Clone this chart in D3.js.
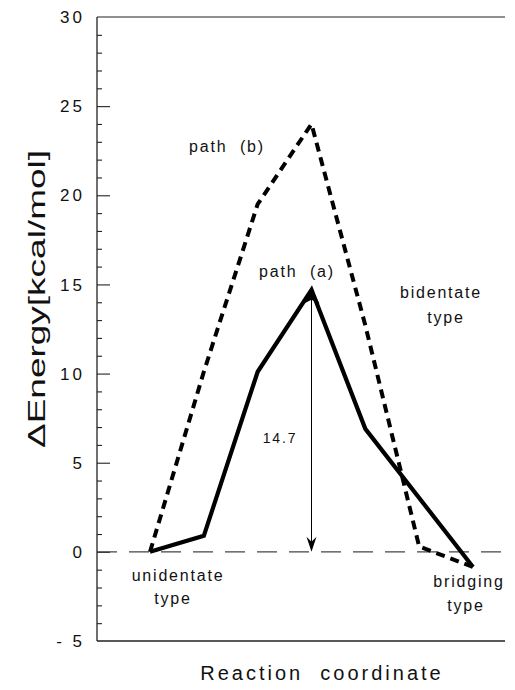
<!DOCTYPE html>
<html>
<head>
<meta charset="utf-8">
<script src="https://cdn.jsdelivr.net/npm/d3@7"></script>
<style>
  html, body { margin: 0; padding: 0; background: #fff; }
  svg { display: block; }
  text { font-family: "Liberation Sans", Arial, Helvetica, sans-serif; fill: #111; white-space: pre; }
</style>
</head>
<body>
<svg id="chart" width="515" height="690"></svg>
<script>
// ---- data ----
const coordA = [0, 1, 2, 3, 4, 6];
const energyA = [0, 0.9, 10.1, 14.7, 6.9, -0.85];
const coordB = [0, 1, 2, 3, 4, 5, 6];
const energyB = [0, 10.1, 19.5, 24.0, 12.7, 0.3, -0.85];
const yTicksMajor = [-5, 0, 5, 10, 15, 20, 25, 30];
const yTickLabels = ["- 5", "0", "5", "10", "15", "20", "25", "30"];
const barrier = 14.7;
const barrierLabel = "14.7";

// ---- layout ----
const svg = d3.select("#chart");
const frameLeft = 97, frameRight = 505;
const y = d3.scaleLinear().domain([-5, 30]).range([641, 17]);
const x = d3.scaleLinear().domain([0, 6]).range([150, 473]);

// frame
svg.append("line").attr("x1", frameLeft).attr("x2", frameLeft)
  .attr("y1", y(30)).attr("y2", y(-5)).attr("stroke", "#222").attr("stroke-width", 1.3);
svg.append("line").attr("x1", frameLeft).attr("x2", frameRight)
  .attr("y1", y(-5)).attr("y2", y(-5)).attr("stroke", "#222").attr("stroke-width", 1.3);
svg.append("line").attr("x1", frameLeft).attr("x2", frameRight)
  .attr("y1", y(30)).attr("y2", y(30)).attr("stroke", "#222").attr("stroke-width", 1.1);

// y axis ticks (inward), via d3.axisRight
const minorTicks = d3.range(-4, 30).filter(v => v % 5 !== 0);
svg.append("g").attr("transform", `translate(${frameLeft},0)`)
  .call(d3.axisRight(y).tickValues(minorTicks).tickSize(5).tickFormat(""))
  .call(g => g.select(".domain").remove())
  .call(g => g.selectAll("line").attr("stroke", "#222").attr("stroke-width", 1.1));
svg.append("g").attr("transform", `translate(${frameLeft},0)`)
  .call(d3.axisRight(y).tickValues(yTicksMajor.filter(v => v > -5 && v < 30)).tickSize(13).tickFormat(""))
  .call(g => g.select(".domain").remove())
  .call(g => g.selectAll("line").attr("stroke", "#222").attr("stroke-width", 1.1));

// tick labels
svg.append("g").selectAll("text").data(yTicksMajor).join("text")
  .attr("x", 85).attr("y", d => y(d)).attr("dy", "0.36em")
  .attr("text-anchor", "end")
  .style("font-size", "17px").style("letter-spacing", "3px")
  .text((d, i) => yTickLabels[i]);

// zero reference line
svg.append("line").attr("x1", frameLeft).attr("x2", frameRight)
  .attr("y1", y(0)).attr("y2", y(0))
  .attr("stroke", "#444").attr("stroke-width", 1.1).attr("stroke-dasharray", "20,12");

// paths
const line = d3.line().x(d => x(d[0])).y(d => y(d[1]));
svg.append("path").datum(coordB.map((c, i) => [c, energyB[i]]))
  .attr("d", line).attr("fill", "none").attr("stroke", "#000")
  .attr("stroke-width", 4).attr("stroke-dasharray", "9,6");
svg.append("path").datum(coordA.map((c, i) => [c, energyA[i]]))
  .attr("d", line).attr("fill", "none").attr("stroke", "#000")
  .attr("stroke-width", 4.2).attr("stroke-linejoin", "miter");

// barrier arrow
const ax = x(3), yTop = y(barrier), yBot = y(0);
svg.append("line").attr("x1", ax).attr("x2", ax).attr("y1", yTop + 6).attr("y2", yBot - 6)
  .attr("stroke", "#000").attr("stroke-width", 1);
svg.append("path")
  .attr("d", `M${ax},${yBot} L${ax - 5},${yBot - 15} L${ax},${yBot - 10} L${ax + 5},${yBot - 15} Z`)
  .attr("fill", "#000");
svg.append("path")
  .attr("d", `M${ax},${yTop - 2} L${ax - 8},${yTop + 14} L${ax},${yTop + 10} L${ax + 8},${yTop + 14} Z`)
  .attr("fill", "#000");

// annotations
const ann = [
  { t: "path  (b)", x: 227, y: 152, s: 16 },
  { t: "path  (a)", x: 297, y: 277, s: 16 },
  { t: "bidentate", x: 441, y: 298, s: 16 },
  { t: "type", x: 446, y: 323, s: 16 },
  { t: barrierLabel, x: 280, y: 443, s: 14 },
  { t: "unidentate", x: 178, y: 581, s: 16 },
  { t: "type", x: 173, y: 604, s: 16 },
  { t: "bridging", x: 469, y: 587, s: 16 },
  { t: "type", x: 466, y: 611, s: 16 }
];
svg.append("g").selectAll("text").data(ann).join("text")
  .attr("x", d => d.x).attr("y", d => d.y)
  .attr("text-anchor", "middle")
  .style("font-size", d => d.s + "px").style("letter-spacing", "1.8px")
  .text(d => d.t);

// axis titles
svg.append("text").attr("x", 322).attr("y", 680).attr("text-anchor", "middle")
  .style("font-size", "20px").style("letter-spacing", "3px")
  .text("Reaction  coordinate");
svg.append("text").attr("transform", "translate(45,299) rotate(-90)")
  .attr("text-anchor", "middle")
  .style("font-size", "24px")
  .attr("textLength", 298).attr("lengthAdjust", "spacingAndGlyphs")
  .text("ΔEnergy[kcal/mol]");
</script>
</body>
</html>
